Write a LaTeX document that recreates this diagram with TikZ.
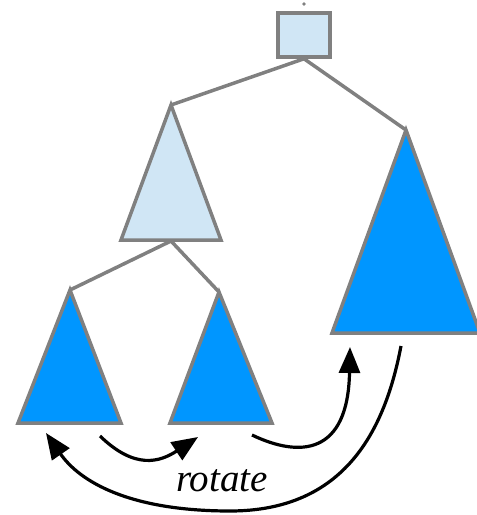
\documentclass[tikz,border=0pt]{standalone}
\usepackage{fontspec}
\setmainfont{Liberation Serif}
\usetikzlibrary{arrows.meta}
\definecolor{edgegray}{RGB}{128,128,128}
\definecolor{paleblue}{RGB}{208,230,245}
\definecolor{brightblue}{RGB}{0,150,255}
\tikzset{
  rootbox/.style={
    draw=edgegray,
    fill=paleblue,
    line width=3.5pt,
    minimum width=52pt,
    minimum height=44pt,
    inner sep=0pt
  },
  tick/.style={
    circle,
    fill=edgegray,
    inner sep=1.3pt
  },
  edge/.style={
    draw=edgegray,
    line width=3.5pt
  },
  paletree/.style={
    draw=edgegray,
    fill=paleblue,
    line width=3.5pt
  },
  subtree/.style={
    draw=edgegray,
    fill=brightblue,
    line width=3.5pt
  },
  arrow/.style={
    -{Triangle[length=26pt,width=21pt]},
    line width=3.2pt
  }
}

\begin{document}
\begin{tikzpicture}[x=1pt,y=-1pt]
  \useasboundingbox (0,0) rectangle (477,515);

  % root and the mark above it
  \node[tick] (mark) at (304,4) {};
  \node[rootbox] (root) at (304,35) {};

  % apexes and bases of the subtrees
  \coordinate (a) at (171,105);
  \coordinate (a-l) at (121,240);
  \coordinate (a-r) at (221,240);
  \coordinate (a-b) at (171,241);
  \coordinate (b) at (406,130);
  \coordinate (b-l) at (332,333);
  \coordinate (b-r) at (480,333);
  \coordinate (c) at (70,290);
  \coordinate (c-l) at (18,423);
  \coordinate (c-r) at (121,423);
  \coordinate (d) at (219,292);
  \coordinate (d-l) at (170,423);
  \coordinate (d-r) at (272,423);

  \draw[edge] (root.south) -- (a);
  \draw[edge] (root.south) -- (b);
  \draw[edge] (a-b) -- (c);
  \draw[edge] (a-b) -- (d);

  \filldraw[paletree] (a) -- (a-r) -- (a-l) -- cycle;
  \filldraw[subtree] (b) -- (b-r) -- (b-l) -- cycle;
  \filldraw[subtree] (c) -- (c-r) -- (c-l) -- cycle;
  \filldraw[subtree] (d) -- (d-r) -- (d-l) -- cycle;

  % rotation arrows
  \coordinate (c-out) at (100,436);
  \coordinate (d-in) at (198,437);
  \coordinate (d-out) at (252,435);
  \coordinate (b-in) at (350,347);
  \coordinate (b-out) at (401,346);
  \coordinate (c-in) at (46,433);

  \draw[arrow] (c-out) .. controls (135,470) and (160,462) .. (d-in);
  \draw[arrow] (d-out) .. controls (300,458) and (348,455) .. (b-in);
  \draw[arrow] (b-out) .. controls (385,430) and (345,511) .. (230,511)
    .. controls (130,511) and (80,482) .. (c-in);

  \node[font=\itshape\fontsize{39}{42}\selectfont] (label) at (222,481) {rotate};
\end{tikzpicture}
\end{document}
